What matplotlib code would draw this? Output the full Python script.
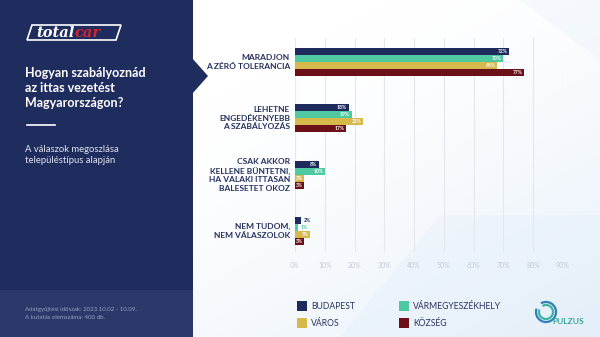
import matplotlib.pyplot as plt
from matplotlib.patches import Polygon, Rectangle, Arc
import numpy as np

# Survey answers (%) by settlement type
categories = ['MARADJON\nA ZÉRÓ TOLERANCIA',
              'LEHETNE\nENGEDÉKENYEBB\nA SZABÁLYOZÁS',
              'CSAK AKKOR\nKELLENE BÜNTETNI,\nHA VALAKI ITTASAN\nBALESETET OKOZ',
              'NEM TUDOM,\nNEM VÁLASZOLOK']
series = ['BUDAPEST', 'VÁRMEGYESZÉKHELY', 'VÁROS', 'KÖZSÉG']
budapest = [72, 18, 8, 2]
varmegye = [70, 19, 10, 1]
varos = [68, 23, 3, 5]
kozseg = [77, 17, 3, 3]
ticks = [0, 10, 20, 30, 40, 50, 60, 70, 80, 90]

colors = ['#1f2a5c', '#4ec9a2', '#d6b94a', '#6b1016']
navy = '#1f2c5e'

W, H = 600, 337
fig = plt.figure(figsize=(6, 3.37), dpi=100)

# background layer in pixel coordinates
bg = fig.add_axes([0, 0, 1, 1])
bg.set_xlim(0, W)
bg.set_ylim(H, 0)
bg.axis('off')

gx = np.linspace(0, 1, 200)
gy = np.linspace(0, 1, 120)
GX, GY = np.meshgrid(gx, gy)
t = np.clip(0.6 * GY + 0.4 * GX - 0.2, 0, 1) ** 1.4
c0 = np.array([1.0, 1.0, 1.0])
c1 = np.array([0xdd, 0xeb, 0xf8]) / 255
img = c0 + (c1 - c0) * t[..., None]
bg.imshow(img, extent=[193, W, H, 0], aspect='auto', zorder=0)

# faint angular shapes in the background
bg.add_patch(Polygon([[340, 337], [440, 215], [600, 215], [600, 337]],
                     closed=True, fc='#e4eef9', ec='none', alpha=0.35, zorder=0.5))
bg.add_patch(Polygon([[520, 0], [600, 0], [600, 60]],
                     closed=True, fc='#e8f1fa', ec='none', alpha=0.35, zorder=0.5))

# left panel
bg.add_patch(Rectangle((0, 0), 193, H, fc=navy, ec='none', zorder=1))
bg.add_patch(Rectangle((0, 290), 193, H - 290, fc='#2b3869', ec='none', zorder=1.1))
bg.add_patch(Polygon([[192, 58], [208, 76], [192, 94]], closed=True,
                     fc=navy, ec='none', zorder=1))

# totalcar logo
bg.add_patch(Polygon([[27, 40], [116, 40], [121, 25], [32, 25]], closed=True,
                     fc='none', ec='white', lw=1.2, zorder=2))
t1 = bg.text(36, 33, 'total', color='white', fontsize=10.5, fontweight='bold',
             fontstyle='italic', family='DejaVu Serif', va='center', ha='left', zorder=3)
bg.annotate('car', xy=(1, 0.5), xycoords=t1, color='#d8242a', fontsize=10.5,
            fontweight='bold', fontstyle='italic', family='DejaVu Serif',
            va='center', ha='left', zorder=3)

bg.text(25, 88, 'Hogyan szabályoznád\naz ittas vezetést\nMagyarországon?',
        color='white', fontsize=9, fontweight='bold', family='Lato',
        va='center', ha='left', linespacing=1.3, zorder=3)
bg.plot([27, 55], [125, 125], color='white', lw=1.2, zorder=3)
bg.text(25, 155, 'A válaszok megoszlása\ntelepüléstípus alapján',
        color='#dfe3ef', fontsize=6.8, family='Lato', va='center', ha='left',
        linespacing=1.4, zorder=3)
bg.text(25, 313.5, 'Adatgyűjtési időszak: 2023.10.02 - 10.09.\nA kutatás elemszáma: 400 db.',
        color='#98a2c2', fontsize=4.4, family='Lato', va='center', ha='left',
        linespacing=1.6, zorder=3)

# legend
leg_pos = [(297, 301), (399, 301), (297, 318), (399, 318)]
for (lx, ly), i in zip(leg_pos, range(len(series))):
    bg.add_patch(Rectangle((lx, ly), 10, 10, fc=colors[i], ec='none', zorder=3))
    bg.text(lx + 14, ly + 5.3, series[i], color='#2a3462', fontsize=6.2,
            family='Lato', va='center', ha='left', zorder=3)

# pulzus logo
for r, col in [(10, '#2f7fb8'), (7, '#3db59f')]:
    bg.add_patch(Arc((546, 312), 2 * r, 2 * r, theta1=-120, theta2=200,
                     color=col, lw=1.6, zorder=3))
bg.text(552, 322, 'PULZUS', color='#3aa59a', fontsize=6, fontweight='bold',
        family='Lato', va='center', ha='left', zorder=3)

# chart axes: x 0..90 spans 295..563 px, y spans 38..252 px
ax = fig.add_axes([295 / W, 1 - 252 / H, 268 / W, 214 / H])
ax.patch.set_alpha(0)
for s in ax.spines.values():
    s.set_visible(False)
ax.set_xlim(0, 90)
ax.set_ylim(3.37, -0.425)
ax.set_xticks(ticks)
ax.set_xticklabels([f'{v}%' for v in ticks], color='#c3c9d4', fontsize=5,
                   family='Lato')
ax.tick_params(axis='x', length=0, pad=7)
ax.set_yticks([])
ax.grid(axis='x', color='#e4e7ec', lw=0.8)
ax.set_axisbelow(True)

bh = 0.124
data = [budapest, varmegye, varos, kozseg]
pos = np.arange(len(categories))
for j, vals in enumerate(data):
    yy = pos + (j - 1.5) * bh
    ax.barh(yy, vals, height=bh * 0.97, color=colors[j], zorder=2)
    for y, v in zip(yy, vals):
        if v >= 3:
            ax.text(v - 0.5, y, f'{v}%', color='white', fontsize=3.6,
                    fontweight='bold', family='Lato', ha='right', va='center', zorder=3)
        else:
            ax.text(v + 0.8, y, f'{v}%', color=colors[j], fontsize=3.6,
                    fontweight='bold', family='Lato', ha='left', va='center', zorder=3)

for p, lab in zip(pos, categories):
    ax.text(-1.7, p, lab, color='#27305f', fontsize=6, fontweight='bold',
            family='Lato', ha='right', va='center', linespacing=1.25,
            zorder=3)

fig.savefig('out.png', dpi=100)
